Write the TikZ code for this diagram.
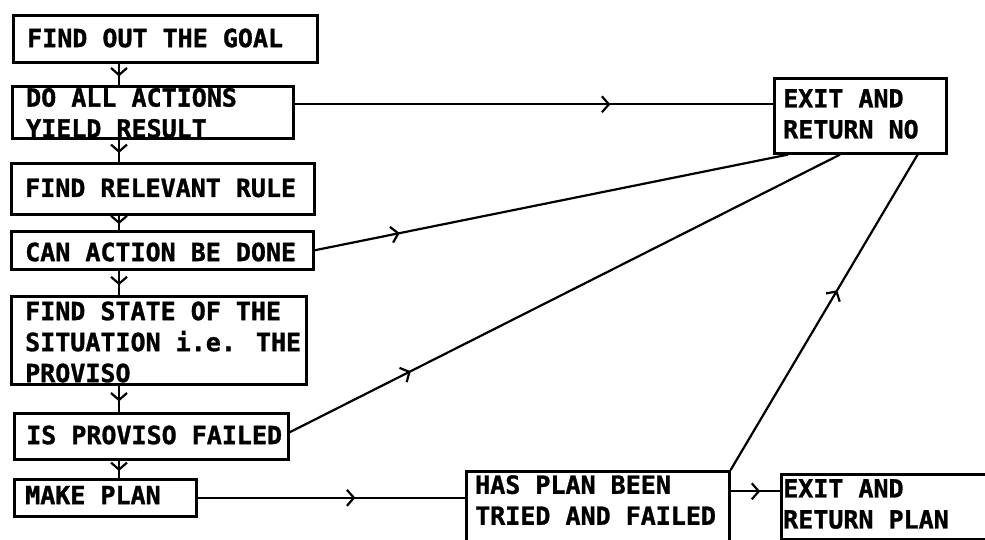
\documentclass[tikz,border=0pt]{standalone}
\usepackage{fontspec}
\newfontfamily\chartfont{DejaVu Sans Mono}[BoldFont={DejaVu Sans Mono Bold}, BoldFeatures={FakeBold=1.2}]
\usetikzlibrary{arrows.meta,decorations.markings}
\begin{document}
\begin{tikzpicture}[x=1pt,y=-1pt,
  box/.style={draw, line width=2.6pt, anchor=north west, inner sep=0pt},
  txt/.style={anchor=west, inner sep=0pt, align=left,
    font=\chartfont\bfseries\fontsize{25}{31}\selectfont},
  flow/.style={draw, line width=2.2pt, postaction={decorate},
    decoration={markings, mark=at position #1 with
      {\arrow{Straight Barb[length=7pt,width=16pt,line width=2.2pt]}}}}]
\useasboundingbox (0,0) rectangle (985,539);
\clip (0,0) rectangle (985,539);

% main column of steps
\node[box, minimum width=304pt, minimum height=47pt] (b1) at (12,14) {};
\node[box, minimum width=281pt, minimum height=52pt] (b2) at (11,85) {};
\node[box, minimum width=303pt, minimum height=51pt] (b3) at (10,162) {};
\node[box, minimum width=302pt, minimum height=38pt] (b4) at (10,230) {};
\node[box, minimum width=295pt, minimum height=88pt] (b5) at (10,295) {};
\node[box, minimum width=274pt, minimum height=46pt] (b6) at (13,412) {};
\node[box, minimum width=182pt, minimum height=37pt] (b7) at (13,478) {};

% outcome boxes
\node[box, minimum width=263pt, minimum height=80pt] (b8) at (465,470) {};
\node[box, minimum width=230pt, minimum height=65pt] (b9) at (780,473) {};
\node[box, minimum width=172pt, minimum height=75pt] (b10) at (773,77) {};

% box texts
\node[txt] (t1) at (27,38) {FIND OUT THE GOAL};
\node[txt] (t2) at (26,113) {DO ALL ACTIONS\\YIELD RESULT};
\node[txt] (t3) at (25,188) {FIND RELEVANT RULE};
\node[txt] (t4) at (25,252) {CAN ACTION BE DONE};
\node[txt] (t5) at (25,342) {FIND STATE OF THE\\SITUATION i.e. THE\\PROVISO};
\node[txt] (t6) at (26,435) {IS PROVISO FAILED};
\node[txt] (t7) at (25,495) {MAKE PLAN};
\node[txt] (t8) at (475,500) {HAS PLAN BEEN\\TRIED AND FAILED};
\node[txt] (t9) at (783,504) {EXIT AND\\RETURN PLAN};
\node[txt] (t10) at (783,114) {EXIT AND\\RETURN NO};

% downward links of the column
\coordinate (spine) at (119,0);
\draw[flow=0.6] (b1.south -| spine) -- (b2.north -| spine);
\draw[flow=0.6] (b2.south -| spine) -- (b3.north -| spine);
\draw[flow=0.6] (b3.south -| spine) -- (b4.north -| spine);
\draw[flow=0.6] (b4.south -| spine) -- (b5.north -| spine);
\draw[flow=0.6] (b5.south -| spine) -- (b6.north -| spine);
\draw[flow=0.6] (b6.south -| spine) -- (b7.north -| spine);

% exits to "return no"
\draw[flow=0.66] ([yshift=8pt]b2.east) -- ([yshift=8pt]b2.east -| b10.west);
\draw[flow=0.18] (b4.east) -- ([xshift=15pt]b10.south west);
\draw[flow=0.22] ([yshift=4pt]b6.east) -- ([xshift=67pt]b10.south west);
\draw[flow=0.57] (b8.north east) -- ([xshift=-30pt]b10.south east);

% plan path
\draw[flow=0.59] (b7.east) -- (b7.east -| b8.west);
\draw[flow=0.6] ([yshift=20pt]b8.east) -- ([yshift=20pt]b8.east -| b9.west);
\end{tikzpicture}
\end{document}
